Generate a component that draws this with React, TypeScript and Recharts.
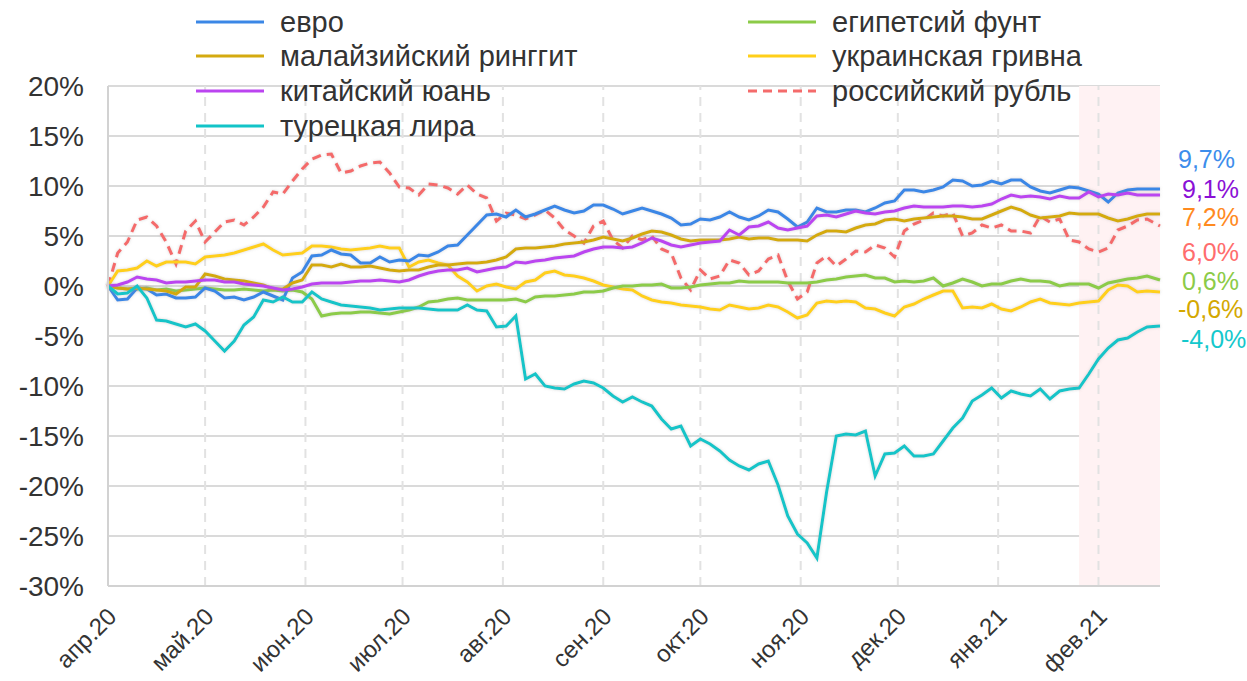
import { LineChart, Line, XAxis, YAxis, CartesianGrid, ReferenceArea, ReferenceLine } from 'recharts';

// days since 1 Apr 2020
const days = [
  0, 3, 6, 9, 12, 15, 18, 21, 24, 27,
  30, 33, 36, 39, 42, 45, 48, 51, 54, 57,
  60, 63, 66, 69, 72, 75, 78, 81, 84, 87,
  90, 93, 96, 99, 102, 105, 108, 111, 114, 117,
  120, 123, 126, 129, 132, 135, 138, 141, 144, 147,
  150, 153, 156, 159, 162, 165, 168, 171, 174, 177,
  180, 183, 186, 189, 192, 195, 198, 201, 204, 207,
  210, 213, 216, 219, 222, 225, 228, 231, 234, 237,
  240, 243, 246, 249, 252, 255, 258, 261, 264, 267,
  270, 273, 276, 279, 282, 285, 288, 291, 294, 297,
  300, 303, 306, 309, 312, 315, 318, 321, 325,
];

const euro = [
  0, -1.4, -1.3, -0.2, -0.3, -0.9, -0.8, -1.2, -1.2, -1.1,
  -0.2, -0.5, -1.2, -1.1, -1.4, -1.1, -0.6, -1.0, -1.4, 0.8,
  1.4, 3.0, 3.1, 3.6, 3.2, 3.1, 2.3, 2.3, 2.9, 2.4,
  2.6, 2.5, 3.1, 3.0, 3.4, 4.0, 4.1, 5.1, 6.1, 7.1,
  7.2, 6.9, 7.6, 6.9, 7.2, 7.6, 8.0, 7.6, 7.3, 7.5,
  8.1, 8.1, 7.7, 7.2, 7.5, 7.8, 7.5, 7.2, 6.8, 6.1,
  6.2, 6.7, 6.6, 6.9, 7.4, 6.9, 6.6, 7.0, 7.6, 7.4,
  6.7, 5.9, 6.4, 7.8, 7.4, 7.4, 7.6, 7.6, 7.4, 7.8,
  8.3, 8.5, 9.6, 9.6, 9.4, 9.6, 9.9, 10.6, 10.5, 10.0,
  10.1, 10.5, 10.2, 10.6, 10.6, 9.9, 9.5, 9.3, 9.6, 9.9,
  9.8, 9.5, 9.2, 8.4, 9.3, 9.6, 9.7, 9.7, 9.7,
];

const ringgit = [
  0, -0.2, -0.3, -0.2, -0.3, -0.4, -0.5, -0.8, -0.1, -0.1,
  1.2, 1.0, 0.7, 0.6, 0.5, 0.3, 0.1, -0.3, -0.3, 0.3,
  0.6, 2.1, 2.1, 1.9, 2.2, 1.9, 1.9, 2.0, 1.8, 1.6,
  1.5, 1.6, 1.6, 1.9, 2.1, 2.1, 2.2, 2.3, 2.3, 2.4,
  2.6, 2.9, 3.7, 3.8, 3.8, 3.9, 4.0, 4.2, 4.3, 4.4,
  4.6, 4.9, 4.7, 4.5, 4.8, 5.2, 5.5, 5.4, 5.1, 4.7,
  4.5, 4.6, 4.6, 4.6, 4.7, 4.9, 4.7, 4.8, 4.8, 4.6,
  4.6, 4.6, 4.5, 5.1, 5.5, 5.5, 5.4, 5.8, 6.1, 6.2,
  6.6, 6.7, 6.5, 6.7, 6.8, 6.9, 7.0, 7.0, 6.9, 6.7,
  6.7, 7.1, 7.5, 7.9, 7.6, 7.1, 6.8, 6.9, 7.0, 7.3,
  7.2, 7.2, 7.2, 6.8, 6.5, 6.7, 7.0, 7.2, 7.2,
];

const yuan = [
  0, 0.1, 0.4, 0.9, 0.7, 0.6, 0.3, 0.4, 0.4, 0.5,
  0.6, 0.6, 0.4, 0.4, 0.2, 0.1, 0.0, -0.2, -0.4, -0.3,
  -0.1, 0.2, 0.3, 0.3, 0.3, 0.4, 0.5, 0.5, 0.6, 0.5,
  0.4, 0.6, 1.0, 1.3, 1.5, 1.6, 1.6, 1.8, 1.4, 1.6,
  1.8, 1.9, 2.4, 2.3, 2.5, 2.6, 2.8, 2.9, 3.0, 3.4,
  3.7, 3.9, 3.9, 3.8, 3.9, 4.3, 4.8, 4.5, 4.1, 3.9,
  4.1, 4.3, 4.4, 4.5, 5.6, 5.1, 5.9, 6.0, 6.4, 5.8,
  5.6, 5.8, 6.0, 7.0, 7.1, 6.9, 7.2, 7.5, 7.3, 7.2,
  7.4, 7.5, 7.8, 8.0, 7.9, 7.9, 7.9, 8.0, 8.0, 7.9,
  8.0, 8.2, 8.7, 9.1, 8.9, 9.0, 8.9, 8.7, 9.0, 8.8,
  8.8, 9.4, 8.9, 9.2, 9.1, 9.3, 9.1, 9.1, 9.1,
];

const lira = [
  0, -0.8, -0.7, 0.0, -1.2, -3.4, -3.5, -3.8, -4.1, -3.8,
  -4.5, -5.5, -6.5, -5.5, -3.9, -3.1, -1.4, -1.6, -1.1, -1.6,
  -1.6, -0.6, -1.3, -1.6, -1.9, -2.0, -2.1, -2.2, -2.4, -2.3,
  -2.2, -2.2, -2.2, -2.3, -2.4, -2.4, -2.4, -1.9, -2.4, -2.5,
  -4.1, -4.0, -3.0, -9.3, -8.8, -10.0, -10.2, -10.3, -9.8, -9.5,
  -9.7, -10.2, -11.0, -11.6, -11.1, -11.6, -12.0, -13.3, -14.3, -14.0,
  -16.0, -15.3, -15.8, -16.5, -17.4, -18.0, -18.4, -17.8, -17.5, -19.9,
  -23.0, -24.8, -25.7, -27.2, -20.6, -15.0, -14.8, -14.9, -14.5, -19.0,
  -16.8, -16.7, -16.0, -17.0, -17.0, -16.8, -15.5, -14.2, -13.2, -11.5,
  -10.9, -10.2, -11.2, -10.5, -10.8, -11.0, -10.3, -11.3, -10.5, -10.3,
  -10.2, -8.8, -7.3, -6.2, -5.4, -5.2, -4.6, -4.1, -4.0,
];

const egp = [
  0, -0.2, -0.3, -0.3, -0.2, -0.4, -0.3, -0.5, -0.4, -0.3,
  -0.2, -0.3, -0.4, -0.4, -0.3, -0.4, -0.5, -0.4, -0.5, -0.4,
  -0.6, -1.3, -3.0, -2.8, -2.7, -2.7, -2.6, -2.6, -2.7, -2.8,
  -2.6, -2.4, -2.1, -1.6, -1.5, -1.3, -1.2, -1.4, -1.4, -1.4,
  -1.4, -1.4, -1.3, -1.6, -1.1, -1.0, -1.0, -0.9, -0.8, -0.6,
  -0.6, -0.5, -0.2, 0.0, 0.0, 0.1, 0.1, 0.2, -0.2, -0.2,
  -0.1, 0.1, 0.2, 0.3, 0.3, 0.5, 0.4, 0.4, 0.4, 0.4,
  0.3, 0.3, 0.3, 0.4, 0.6, 0.7, 0.9, 1.0, 1.1, 0.8,
  0.8, 0.4, 0.5, 0.4, 0.5, 0.8, 0.0, 0.3, 0.7, 0.4,
  0.0, 0.2, 0.2, 0.5, 0.7, 0.5, 0.5, 0.4, 0.0, 0.2,
  0.2, 0.2, -0.2, 0.3, 0.5, 0.7, 0.8, 1.0, 0.6,
];

const uah = [
  0, 1.5, 1.6, 1.8, 2.5, 2.0, 2.4, 2.4, 2.4, 2.2,
  2.9, 3.0, 3.1, 3.3, 3.6, 3.9, 4.2, 3.6, 3.1, 3.2,
  3.3, 4.0, 4.0, 3.9, 3.7, 3.6, 3.7, 3.8, 4.0, 3.8,
  3.8, 1.9, 2.4, 2.6, 2.3, 2.1, 1.0, 0.4, -0.5, 0.0,
  0.2, -0.1, -0.3, 0.4, 0.6, 1.3, 1.5, 1.1, 1.0, 0.8,
  0.5, 0.1, -0.1, -0.3, -0.4, -1.0, -1.4, -1.6, -1.7, -1.9,
  -2.0, -2.1, -2.3, -2.4, -1.9, -2.1, -2.3, -2.2, -1.9, -2.1,
  -2.6, -3.2, -2.9, -1.7, -1.5, -1.6, -1.5, -1.6, -2.2, -2.3,
  -2.7, -3.0, -2.1, -1.8, -1.3, -0.9, -0.5, -0.5, -2.2, -2.1,
  -2.2, -1.8, -2.3, -2.5, -2.1, -1.6, -1.3, -1.7, -1.8, -1.9,
  -1.7, -1.6, -1.5, -0.4, 0.1, 0.0, -0.6, -0.5, -0.6,
];

const rub = [
  0, 3.3, 4.4, 6.6, 6.9, 6.0, 4.4, 2.2, 5.5, 6.5,
  4.4, 5.4, 6.4, 6.6, 6.1, 6.9, 7.9, 9.4, 9.2, 10.5,
  11.7, 12.7, 13.1, 13.2, 11.3, 11.5, 12.0, 12.3, 12.4, 11.3,
  9.9, 9.8, 9.1, 10.2, 10.1, 9.8, 9.2, 10.1, 9.2, 8.8,
  6.5, 7.3, 7.1, 6.7, 7.1, 7.6, 6.8, 5.6, 5.0, 4.3,
  6.0, 6.5, 4.6, 3.8, 5.0, 4.6, 5.0, 3.7, 3.3, 0.8,
  -0.4, 1.6, 0.7, 1.0, 2.6, 2.3, 1.1, 1.5, 2.7, 3.1,
  0.5, -1.3, -0.6, 2.3, 3.0, 2.0, 2.7, 3.5, 3.4, 4.1,
  3.8, 2.9, 5.5, 6.2, 6.6, 7.3, 7.0, 7.3, 5.0, 5.3,
  6.1, 5.8, 6.1, 5.5, 5.5, 5.3, 7.0, 6.4, 6.7, 4.6,
  4.4, 3.7, 3.4, 3.8, 5.6, 6.0, 6.6, 6.7, 6.0,
];

const monthTicks = [0, 30, 61, 91, 122, 153, 183, 214, 244, 275, 306];
const monthLabels = ['апр.20', 'май.20', 'июн.20', 'июл.20', 'авг.20', 'сен.20', 'окт.20', 'ноя.20', 'дек.20', 'янв.21', 'фев.21'];
const yTicks = [-30, -25, -20, -15, -10, -5, 0, 5, 10, 15, 20];

const endLabels = ['9,7%', '9,1%', '7,2%', '6,0%', '0,6%', '-0,6%', '-4,0%'];
const endColors = ['#3d8deb', '#8a10d6', '#ff8a1f', '#ff6d6d', '#8ccb48', '#d4a800', '#14c8cc'];
const endLabelPos = [[1178, 159], [1182, 189], [1182, 217], [1182, 252], [1182, 281], [1178, 309], [1181, 339]];

const series = [
  { key: 'rub', name: 'российский рубль', color: '#f46b6b', dashed: true, values: rub },
  { key: 'uah', name: 'украинская гривна', color: '#ffcf1a', dashed: false, values: uah },
  { key: 'egp', name: 'египетсий фунт', color: '#8ccb48', dashed: false, values: egp },
  { key: 'eur', name: 'евро', color: '#3b87e6', dashed: false, values: euro },
  { key: 'myr', name: 'малайзийский ринггит', color: '#d4aa10', dashed: false, values: ringgit },
  { key: 'cny', name: 'китайский юань', color: '#bb44f0', dashed: false, values: yuan },
  { key: 'try', name: 'турецкая лира', color: '#12c4c8', dashed: false, values: lira },
];

const legendLeft = ['eur', 'myr', 'cny', 'try'];
const legendRight = ['egp', 'uah', 'rub'];

const data = days.map((d, i) => {
  const row: Record<string, number> = { d };
  series.forEach(s => { row[s.key] = s.values[i]; });
  return row;
});

const FONT = '"Liberation Sans", Arial, Helvetica, sans-serif';

const MonthTick = ({ x, payload }: any) => {
  const idx = monthTicks.indexOf(payload.value);
  const ax = x + 10;
  const ay = 618;
  return (
    <text x={ax} y={ay} textAnchor="end" fontSize={24} fill="#333" fontFamily={FONT}
      transform={`rotate(-45, ${ax}, ${ay})`}>
      {monthLabels[idx]}
    </text>
  );
};

export default function App() {
  const byKey = (k: string) => series.find(s => s.key === k)!;

  return (
    <div style={{ position: 'absolute', left: 0, top: 0, width: 1247, height: 681, background: '#fff', fontFamily: FONT }}>
      <svg width={0} height={0} style={{ position: 'absolute' }}>
        <defs>
          <filter id="lineShadow" filterUnits="userSpaceOnUse" x={0} y={0} width={1247} height={681}>
            <feGaussianBlur in="SourceAlpha" stdDeviation="1.6" result="blur" />
            <feFlood floodColor="#8a8a8a" floodOpacity="0.35" />
            <feComposite in2="blur" operator="in" result="shadow" />
            <feMerge>
              <feMergeNode in="shadow" />
              <feMergeNode in="SourceGraphic" />
            </feMerge>
          </filter>
        </defs>
      </svg>

      <LineChart width={1247} height={681} data={data} margin={{ top: 86, right: 87, left: 8, bottom: 5 }}>
        <ReferenceArea x1={300} x2={325} y1={-30} y2={20} fill="#fff2f3" fillOpacity={1} stroke="none" />
        <CartesianGrid vertical={false} stroke="#dadada" strokeWidth={2} />
        {monthTicks.slice(1).map(t => (
          <ReferenceLine key={t} x={t} stroke="#e2e2e2" strokeWidth={2} strokeDasharray="9 7" />
        ))}
        <XAxis dataKey="d" type="number" domain={[0, 325]} ticks={monthTicks} interval={0}
          height={90} tickLine={false} axisLine={{ stroke: '#d2d2d2', strokeWidth: 2 }} tick={<MonthTick />} />
        <YAxis type="number" domain={[-30, 20]} ticks={yTicks} interval={0} width={100}
          tickFormatter={v => `${v}%`} tickLine={false} tickMargin={18}
          axisLine={{ stroke: '#d2d2d2', strokeWidth: 2 }}
          tick={{ fill: '#333', fontSize: 28, fontFamily: FONT }} />
        {series.map(s => (
          <Line key={s.key} dataKey={s.key} name={s.name} type="linear" stroke={s.color}
            strokeWidth={3} strokeDasharray={s.dashed ? '9 6' : undefined} dot={false}
            activeDot={false} isAnimationActive={false} filter="url(#lineShadow)" />
        ))}
      </LineChart>

      <svg width={1247} height={681} style={{ position: 'absolute', left: 0, top: 0, pointerEvents: 'none' }}>
        {legendLeft.map((k, i) => {
          const s = byKey(k);
          const y = [22, 56, 91, 126][i];
          return (
            <g key={k}>
              <line x1={196} x2={264} y1={y} y2={y} stroke={s.color} strokeWidth={3} strokeDasharray={s.dashed ? '9 6' : undefined} />
              <text x={280} y={y} dominantBaseline="central" fontSize={29} fill="#333" fontFamily={FONT}>{s.name}</text>
            </g>
          );
        })}
        {legendRight.map((k, i) => {
          const s = byKey(k);
          const y = [22, 56, 91][i];
          return (
            <g key={k}>
              <line x1={748} x2={816} y1={y} y2={y} stroke={s.color} strokeWidth={3} strokeDasharray={s.dashed ? '9 6' : undefined} />
              <text x={832} y={y} dominantBaseline="central" fontSize={29} fill="#333" fontFamily={FONT}>{s.name}</text>
            </g>
          );
        })}
        {endLabels.map((t, i) => (
          <text key={t} x={endLabelPos[i][0]} y={endLabelPos[i][1]} dominantBaseline="central"
            fontSize={25} fill={endColors[i]} fontFamily={FONT}>{t}</text>
        ))}
      </svg>
    </div>
  );
}
